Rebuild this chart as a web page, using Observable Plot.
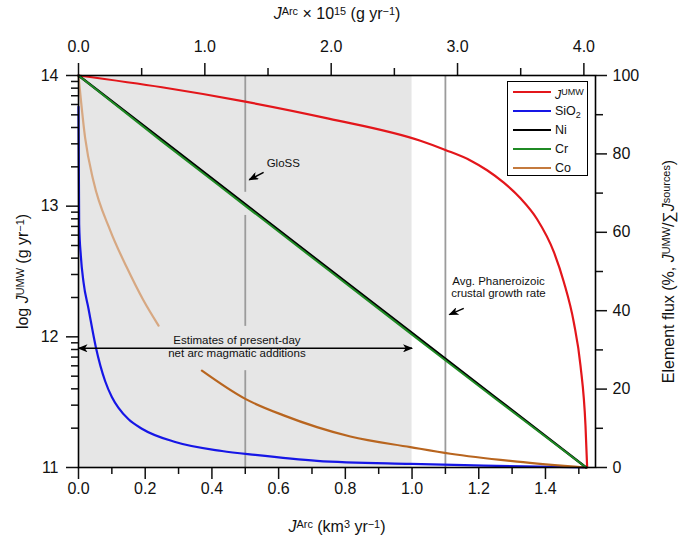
<!DOCTYPE html>
<html><head><meta charset="utf-8">
<script src="https://cdn.jsdelivr.net/npm/d3@7"></script>
<script src="https://cdn.jsdelivr.net/npm/@observablehq/plot@0.6"></script>
<style>
body{margin:0;background:#fff;font-family:"Liberation Sans",Arial,Helvetica,sans-serif;}
#wrap{position:relative;width:685px;height:546px;}
#legend{position:absolute;left:507px;top:81px;width:79px;height:93px;border:1.5px solid #000;background:#fff;font-size:12.5px;color:#111;}
#legend .row{position:absolute;left:0;height:18px;line-height:18px;}
#legend .sw{position:absolute;left:5px;top:8px;width:38px;height:0;border-top:2px solid #000;}
#legend .lb{position:absolute;left:47px;top:0;white-space:nowrap;}
#legend sup{font-size:9px;vertical-align:4px;}
#legend sub{font-size:9px;vertical-align:-3px;}
</style></head>
<body><div id="wrap"></div>
<script>
// ---------- data ----------
// J^UMW : x = J^Arc (km3/yr), value = log J^UMW (g/yr)  [left axis]
const jumwX   = [0, 0.25, 0.5, 0.75, 1.025, 1.1, 1.175, 1.225, 1.275, 1.325, 1.375, 1.425, 1.455, 1.485, 1.505, 1.52, 1.525];
const jumwLog = [14.0, 13.91, 13.80, 13.67, 13.50, 13.43, 13.35, 13.275, 13.18, 13.06, 12.90, 12.65, 12.42, 12.11, 11.78, 11.32, 11.0];
// element fluxes, % [right axis]
const sio2X   = [0, 0.002, 0.007, 0.015, 0.03, 0.052, 0.08, 0.1, 0.12, 0.15, 0.19, 0.29, 0.43, 0.53, 0.715, 0.995, 1.215, 1.52];
const sio2Pct = [92, 62, 54, 47.3, 40.5, 30.7, 22, 18, 15.2, 12.3, 9.9, 6.5, 4.2, 3.2, 1.7, 0.9, 0.5, 0];
const niX     = [0, 0.25, 0.5, 0.75, 1.0, 1.25, 1.522];
const niPct   = [100, 83.6, 67.15, 50.7, 34.3, 17.9, 0];
const crX     = [0, 0.25, 0.5, 0.75, 1.0, 1.25, 1.522];
const crPct   = [100, 83.2, 66.75, 50.3, 33.9, 17.55, 0];
const coLightX   = [0, 0.02, 0.045, 0.095, 0.145, 0.195, 0.24];
const coLightPct = [100, 84, 73, 60.5, 51, 42.6, 36.2];
const coX     = [0.37, 0.5, 0.615, 0.715, 0.815, 0.995, 1.115, 1.315, 1.52];
const coPct   = [24.7, 17.5, 13.3, 10.3, 7.9, 5.2, 3.5, 1.5, 0];

// reference values
const shadeRange = [0, 1.0];          // estimates of present-day net arc additions
const glossX = 0.5;
const glossSegments = [[100, 70.2], [64.3, 36.0], [24.7, 0]];
const phanX = 1.1;

// tick labels
const bottomMajor = [0, 0.2, 0.4, 0.6, 0.8, 1.0, 1.2, 1.4];
const bottomMinor = [0.1, 0.3, 0.5, 0.7, 0.9, 1.1, 1.3, 1.5];
const gramsPerKm3e15 = 2.64;          // top axis conversion
const topMajor = [0, 1, 2, 3, 4];
const topMinor = [0.5, 1.5, 2.5, 3.5];
const rightMajor = [0, 20, 40, 60, 80, 100];
const rightMinor = [10, 30, 50, 70, 90];
const leftMajor = [11, 12, 13, 14];
const leftMinorMult = [2, 3, 4, 5, 6, 7, 8, 9];

// ---------- build ----------
const logToPct = L => (L - 11) / 3 * 100;
const pctToLog = p => 11 + p * 3 / 100;
const zip = (xs, ys) => xs.map((x, i) => ({x, y: ys[i]}));
const red = jumwX.map((x, i) => ({x, y: logToPct(jumwLog[i])}));
const blue = zip(sio2X, sio2Pct), ni = zip(niX, niPct), cr = zip(crX, crPct);
const coL = zip(coLightX, coLightPct), co = zip(coX, coPct);
const leftMinor = [];
for (const n of [11, 12, 13]) for (const k of leftMinorMult) leftMinor.push(logToPct(n + Math.log10(k)));

const C = {red: "#e3161b", blue: "#1616e6", ni: "#000000", cr: "#1f8a24", coL: "#d7a882", co: "#b8651f", coLeg: "#c47a3d"};
const ARROW1 = "#000001", ARROW2 = "#000002";   // tags to find arrow links
const font = '"Liberation Sans", Arial, Helvetica, sans-serif';
const ax = {label: null, strokeWidth: 1.5, fontSize: 16, fill: "#111"};
const seg = {x1: d => d[0], y1: d => d[1], x2: d => d[2], y2: d => d[3], strokeWidth: 1.5};

const plot = Plot.plot({
  width: 685, height: 546,
  marginLeft: 78, marginRight: 90, marginTop: 75, marginBottom: 79,
  style: {fontFamily: font, fontSize: "16px", color: "#111", background: "#fff", overflow: "visible"},
  x: {domain: [0, 1.55]},
  y: {domain: [0, 100]},
  marks: [
    Plot.rect([shadeRange], {x1: d => d[0], x2: d => d[1], y1: 0, y2: 100, fill: "#e6e6e6"}),
    Plot.ruleX(glossSegments, {x: glossX, y1: d => d[0], y2: d => d[1], stroke: "#9b9b9b", strokeWidth: 1.8}),
    Plot.ruleX([phanX], {y1: 0, y2: 100, stroke: "#9b9b9b", strokeWidth: 1.8}),
    Plot.line(blue, {x: "x", y: "y", stroke: C.blue, strokeWidth: 2.2, curve: "monotone-x"}),
    Plot.line(coL, {x: "x", y: "y", stroke: C.coL, strokeWidth: 2.2, curve: "monotone-x"}),
    Plot.line(co, {x: "x", y: "y", stroke: C.co, strokeWidth: 2.2, curve: "monotone-x"}),
    Plot.line(red, {x: "x", y: "y", stroke: C.red, strokeWidth: 2.2, curve: "monotone-x"}),
    Plot.line(ni, {x: "x", y: "y", stroke: C.ni, strokeWidth: 2.4}),
    Plot.line(cr, {x: "x", y: "y", stroke: C.cr, strokeWidth: 2, curve: "monotone-x"}),
    // annotations
    Plot.text(["GloSS"], {x: 0.614, y: 77.6, fontSize: 11.5, fill: "#111"}),
    Plot.link([[0.555, 75.3, 0.512, 73.4]], {...seg, stroke: ARROW1}),
    Plot.text(["Avg. Phaneroizoic\ncrustal growth rate"], {x: 1.259, y: 46.0, fontSize: 11.5, lineHeight: 1.05, fill: "#111"}),
    Plot.link([[1.155, 40.6, 1.112, 39.0]], {...seg, stroke: ARROW1}),
    Plot.text(["Estimates of present-day\nnet arc magmatic additions"], {x: 0.475, y: 30.8, fontSize: 11.5, lineHeight: 1.1, fill: "#111"}),
    Plot.link([[shadeRange[0], 30.4, shadeRange[1], 30.4]], {...seg, stroke: ARROW2}),
    // axes
    Plot.axisX({...ax, anchor: "bottom", ticks: bottomMajor, tickFormat: d => d.toFixed(1), tickSize: 12, tickPadding: 3}),
    Plot.axisX({...ax, anchor: "bottom", ticks: bottomMinor, tickFormat: () => "", tickSize: 7}),
    Plot.axisX({...ax, anchor: "top", ticks: topMajor.map(v => v / gramsPerKm3e15), tickFormat: d => (d * gramsPerKm3e15).toFixed(1), tickSize: 13, tickPadding: 11}),
    Plot.axisX({...ax, anchor: "top", ticks: topMinor.map(v => v / gramsPerKm3e15), tickFormat: () => "", tickSize: 8}),
    Plot.axisY({...ax, anchor: "left", ticks: leftMajor.map(logToPct), tickFormat: d => String(Math.round(pctToLog(d))), tickSize: 12, tickPadding: 8}),
    Plot.axisY({...ax, anchor: "left", ticks: leftMinor, tickFormat: () => "", tickSize: 7}),
    Plot.axisY({...ax, anchor: "right", ticks: rightMajor, tickFormat: d => String(d), tickSize: 11, tickPadding: 6}),
    Plot.axisY({...ax, anchor: "right", ticks: rightMinor, tickFormat: () => "", tickSize: 7}),
    // axis titles
    Plot.text(["*J*^{Arc} × 10^{15} (g yr^{−1})"], {frameAnchor: "top", dy: -62, lineAnchor: "middle", textAnchor: "middle", fontSize: 16, fill: "#111"}),
    Plot.text(["*J*^{Arc} (km^{3} yr^{−1})"], {frameAnchor: "bottom", dy: 59, lineAnchor: "middle", textAnchor: "middle", fontSize: 16, fill: "#111"}),
    Plot.text(["log *J*^{UMW} (g yr^{−1})"], {frameAnchor: "left", dx: -56, rotate: -90, lineAnchor: "middle", textAnchor: "middle", fontSize: 16, fill: "#111"}),
    Plot.text(["Element flux (%, *J*^{UMW}/∑*J*^{sources})"], {frameAnchor: "right", dx: 73, rotate: -90, lineAnchor: "middle", textAnchor: "middle", fontSize: 16, fill: "#111"}),
    Plot.frame({stroke: "#000", strokeWidth: 1.6})
  ]
});

const svg = plot.tagName.toLowerCase() === "svg" ? plot : plot.querySelector("svg");

// rich text: ^{sup}, _{sub}, *italic*
d3.select(svg).selectAll("text").each(function () {
  const el = this;
  if (el.querySelector("tspan")) return;
  const s = el.textContent;
  if (!/\^\{|_\{|\*/.test(s)) return;
  el.textContent = "";
  const re = /(\^\{[^}]*\}|_\{[^}]*\}|\*[^*]*\*)/g;
  let last = 0, m;
  const add = (str, kind) => {
    const t = d3.select(el).append("tspan").text(str);
    if (kind === "sup") t.attr("baseline-shift", "38%").attr("font-size", "68%");
    if (kind === "sub") t.attr("baseline-shift", "-20%").attr("font-size", "68%");
    if (kind === "it") t.attr("font-style", "italic");
  };
  while ((m = re.exec(s))) {
    if (m.index > last) add(s.slice(last, m.index));
    const t = m[0];
    if (t[0] === "^") add(t.slice(2, -1), "sup");
    else if (t[0] === "_") add(t.slice(2, -1), "sub");
    else add(t.slice(1, -1), "it");
    last = re.lastIndex;
  }
  if (last < s.length) add(s.slice(last));
});

// filled arrowheads
const defs = d3.select(svg).insert("defs", ":first-child");
defs.append("marker").attr("id", "ahead").attr("viewBox", "0 0 10 8")
  .attr("refX", 9).attr("refY", 4).attr("markerWidth", 11).attr("markerHeight", 8)
  .attr("markerUnits", "userSpaceOnUse").attr("orient", "auto-start-reverse")
  .append("path").attr("d", "M0,0 L10,4 L0,8 L2.6,4 Z").attr("fill", "#000");
d3.select(svg).selectAll("path").each(function () {
  let s = this.getAttribute("stroke") || (this.parentNode && this.parentNode.getAttribute && this.parentNode.getAttribute("stroke"));
  if (!s) return;
  s = s.toLowerCase();
  if (s === ARROW1 || s === ARROW2) {
    this.setAttribute("marker-end", "url(#ahead)");
    if (s === ARROW2) this.setAttribute("marker-start", "url(#ahead)");
    this.setAttribute("stroke", "#000");
    if (this.parentNode.getAttribute("stroke")) this.parentNode.setAttribute("stroke", "#000");
  }
});

const wrap = document.getElementById("wrap");
wrap.appendChild(plot);

// legend
const legendItems = [
  {html: '<i>J</i><sup>UMW</sup>', color: C.red},
  {html: 'SiO<sub>2</sub>', color: C.blue},
  {html: 'Ni', color: C.ni},
  {html: 'Cr', color: C.cr},
  {html: 'Co', color: C.coLeg}
];
const leg = document.createElement("div");
leg.id = "legend";
legendItems.forEach((it, i) => {
  const r = document.createElement("div");
  r.className = "row";
  r.style.top = (0.5 + i * 19.2) + "px";
  r.innerHTML = `<div class="sw" style="border-top-color:${it.color}"></div><div class="lb">${it.html}</div>`;
  leg.appendChild(r);
});
wrap.appendChild(leg);
</script>
</body></html>
